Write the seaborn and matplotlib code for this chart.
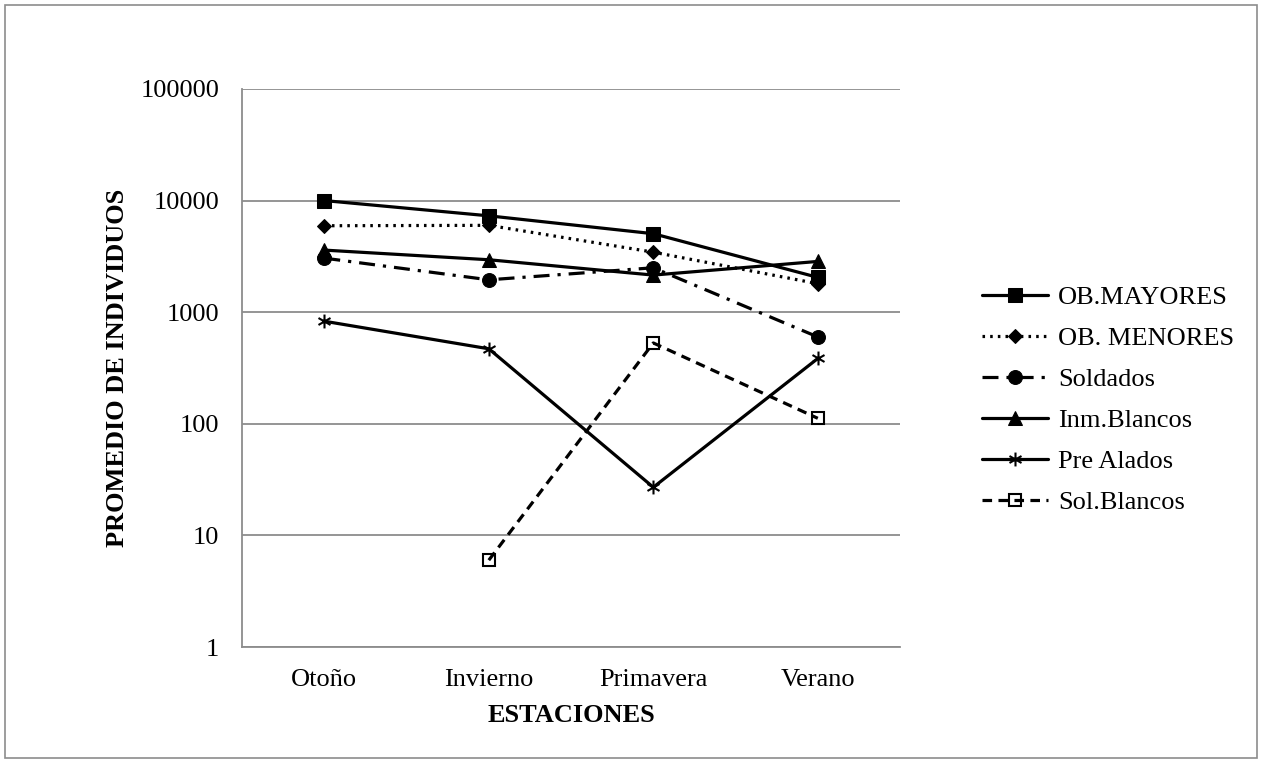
import matplotlib
matplotlib.use("Agg")
import numpy as np
import pandas as pd
import seaborn as sns
import matplotlib.pyplot as plt
from matplotlib.patches import Rectangle
from matplotlib.path import Path
from matplotlib.ticker import FixedLocator, NullFormatter

# Datos (escala logarítmica)
estaciones = ["Otoño", "Invierno", "Primavera", "Verano"]
ob_mayores = [10000, 7300, 5050, 2050]
ob_menores = [5950, 6000, 3450, 1800]
soldados = [3050, 1950, 2500, 600]
inm_blancos = [3600, 2950, 2150, 2850]
pre_alados = [830, 470, 27, 385]
sol_blancos = [np.nan, 6, 530, 112]

series = {
    "OB.MAYORES": ob_mayores,
    "OB. MENORES": ob_menores,
    "Soldados": soldados,
    "Inm.Blancos": inm_blancos,
    "Pre Alados": pre_alados,
    "Sol.Blancos": sol_blancos,
}

# asterisco: barra vertical + dos diagonales
ang = np.deg2rad([90, 30, 150])
verts, codes = [], []
for a in ang:
    verts += [(-np.cos(a), -np.sin(a)), (np.cos(a), np.sin(a))]
    codes += [Path.MOVETO, Path.LINETO]
asterisco = Path(verts, codes)

estilos = {
    "OB.MAYORES": dict(linestyle="-", marker="s", markersize=10),
    "OB. MENORES": dict(linestyle=(0, (0.8, 1.6)), marker="D", markersize=7.5),
    "Soldados": dict(linestyle=(0, (5, 2.5, 1, 2.5)), marker="o", markersize=10),
    "Inm.Blancos": dict(linestyle="-", marker="^", markersize=10),
    "Pre Alados": dict(linestyle="-", marker=asterisco, markersize=10, markeredgewidth=1.5),
    "Sol.Blancos": dict(linestyle=(0, (3, 2)), marker="s", markersize=8,
                        markerfacecolor="none", markeredgewidth=1.5),
}

sns.set_theme(style="white")
plt.rcParams["font.family"] = ["Liberation Serif", "DejaVu Serif"]

fig = plt.figure(figsize=(12.62, 7.63), dpi=100)
ax = fig.add_axes([0.1918, 0.152, 0.5214, 0.7314])

for nombre, valores in series.items():
    df = pd.DataFrame({"estacion": estaciones, "valor": valores}).dropna()
    sns.lineplot(data=df, x="estacion", y="valor", ax=ax, color="black",
                 linewidth=2.3, label=nombre, sort=False, markeredgecolor="black",
                 **estilos[nombre])

ax.set_yscale("log")
ax.set_ylim(1, 100000)
ax.set_xlim(-0.5, 3.5)
ax.yaxis.set_major_locator(FixedLocator([1, 10, 100, 1000, 10000, 100000]))
ax.set_yticklabels(["1", "10", "100", "1000", "10000", "100000"])
ax.yaxis.set_minor_locator(FixedLocator([]))
ax.set_xticks(range(4))
ax.set_xticklabels(estaciones)
ax.xaxis.set_minor_locator(FixedLocator([-0.5, 0.5, 1.5, 2.5, 3.5]))
ax.xaxis.set_minor_formatter(NullFormatter())

ax.tick_params(axis="x", which="major", length=0, pad=15.5, labelsize=19, labelcolor="black")
ax.tick_params(axis="x", which="minor", length=6, width=1.2, color="#888888", direction="out")
ax.tick_params(axis="y", which="major", length=8.5, width=1.2, color="#888888",
               direction="out", labelsize=19, labelcolor="black", pad=8)

ax.grid(True, axis="y", color="#8c8c8c", linewidth=1.3)
ax.grid(False, axis="x")
ax.set_axisbelow(True)
for lado in ["top", "right"]:
    ax.spines[lado].set_visible(False)
for lado in ["left", "bottom"]:
    ax.spines[lado].set_color("#8c8c8c")
    ax.spines[lado].set_linewidth(1.3)

ax.set_xlabel("ESTACIONES", fontsize=19, fontweight="bold", color="black", labelpad=10)
ax.set_ylabel("PROMEDIO DE INDIVIDUOS", fontsize=19, fontweight="bold", color="black", labelpad=8)

leg = ax.legend(loc="center left", bbox_to_anchor=(1.124, 0.443), frameon=False,
                fontsize=19, handlelength=2.5, handletextpad=0.4, labelspacing=0.66,
                borderaxespad=0, borderpad=0, labelcolor="black")

fig.patches.append(Rectangle((0.004, 0.006), 0.992, 0.988, transform=fig.transFigure,
                             fill=False, edgecolor="#8c8c8c", linewidth=1.2))

fig.savefig("out.png", dpi=100, facecolor="white")
